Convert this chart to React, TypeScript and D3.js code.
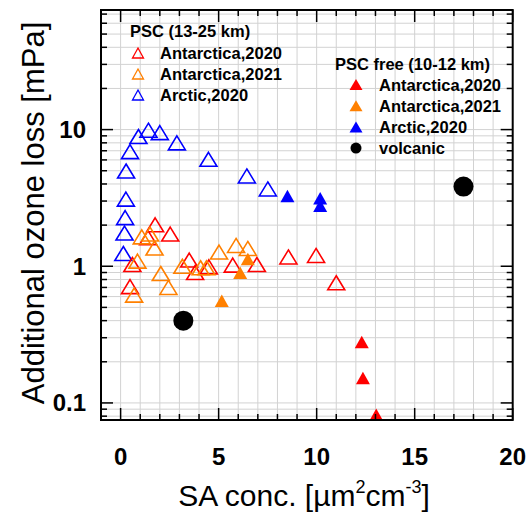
import React from "react";
import * as d3 from "d3";

// ---- data ----
const arcticPscX = [1.42, 2.0, 0.91, 2.87, 0.48, 4.48, 0.28, 0.27, 0.23, 0.2, 0.14, 6.44, 7.51];
const arcticPscY = [9.9, 9.5, 8.9, 8.0, 6.9, 6.06, 4.98, 3.1, 2.27, 1.75, 1.24, 4.58, 3.68];

const ant20PscX = [1.76, 2.53, 1.4, 0.6, 3.5, 3.8, 4.5, 0.48, 5.72, 6.95, 8.56, 9.97, 11.0];
const ant20PscY = [2.01, 1.72, 1.62, 1.03, 1.11, 0.9, 0.99, 0.71, 1.02, 1.03, 1.17, 1.2, 0.757];

const ant21PscX = [1.08, 1.5, 1.73, 0.86, 2.05, 2.44, 0.69, 3.15, 4.08, 4.38, 5.02, 5.89, 6.49];
const ant21PscY = [1.64, 1.72, 1.36, 1.09, 0.885, 0.7, 0.615, 1.0, 0.975, 0.975, 1.27, 1.42, 1.35];

const ant20FreeX = [12.3, 12.36, 13.04];
const ant20FreeY = [0.279, 0.152, 0.082];
const ant21FreeX = [6.49, 6.1, 5.16];
const ant21FreeY = [1.13, 0.895, 0.56];
const arcticFreeX = [8.51, 10.18, 10.18];
const arcticFreeY = [3.27, 3.15, 2.77];
const volcanicX = [3.2, 17.49];
const volcanicY = [0.4, 3.83];

const xTickValues = [0, 5, 10, 15, 20];
const yTickValues = [0.1, 1, 10];
const yTickLabels = ["0.1", "1", "10"];

const legendPscLabels = ["Antarctica,2020", "Antarctica,2021", "Arctic,2020"];
const legendFreeLabels = ["Antarctica,2020", "Antarctica,2021", "Arctic,2020", "volcanic"];

const RED = "#ff0000";
const ORANGE = "#ff8000";
const BLUE = "#0000ff";

const W = 529, H = 517;
const L = 101, R = 512.7, T = 10, B = 420;

const x = d3.scaleLinear().domain([-1, 20]).range([L, R]);
const y = d3.scaleLog().domain([0.075, 75]).range([B, T]);

const zip = (xs: number[], ys: number[]) => xs.map((v, i) => [v, ys[i]] as [number, number]);

const triOpen = (w: number, h: number) => `M0,${-h / 2}L${w / 2},${h / 2}L${-w / 2},${h / 2}Z`;

const FONT = "'Liberation Sans', Arial, sans-serif";

export default function App() {
  const xMinor = d3.range(-1, 21);
  const yMinor: number[] = [];
  for (let d = -2; d <= 1; d++) for (let k = 1; k <= 9; k++) {
    const v = k * Math.pow(10, d);
    if (v > 0.075 && v < 75) yMinor.push(v);
  }
  const openTri = triOpen(17, 14);
  const fillTri = triOpen(14, 12.5);
  const legOpen = triOpen(11, 10);
  const legFill = triOpen(13, 11);

  const openSeries = [
    { pts: zip(arcticPscX, arcticPscY), c: BLUE },
    { pts: zip(ant20PscX, ant20PscY), c: RED },
    { pts: zip(ant21PscX, ant21PscY), c: ORANGE },
  ];
  const fillSeries = [
    { pts: zip(ant20FreeX, ant20FreeY), c: RED },
    { pts: zip(ant21FreeX, ant21FreeY), c: ORANGE },
    { pts: zip(arcticFreeX, arcticFreeY), c: BLUE },
  ];

  return (
    <svg width={W} height={H} style={{ position: "absolute", left: 0, top: 0 }} fontFamily={FONT}>
      <rect x={0} y={0} width={W} height={H} fill="#fff" />
      <defs>
        <clipPath id="plot">
          <rect x={L} y={T} width={R - L} height={B - T} />
        </clipPath>
      </defs>
      {/* grid */}
      <g stroke="#d2d2d2" strokeWidth={1}>
        {xMinor.map((v) => (
          <line key={"gx" + v} x1={x(v)} x2={x(v)} y1={T} y2={B} />
        ))}
        {yMinor.map((v, i) => (
          <line key={"gy" + i} x1={L} x2={R} y1={y(v)} y2={y(v)} />
        ))}
      </g>
      {/* data */}
      <g clipPath="url(#plot)">
        {openSeries.map((s, si) =>
          s.pts.map((p, i) => (
            <path key={`o${si}-${i}`} d={openTri} transform={`translate(${x(p[0])},${y(p[1])})`}
              fill="none" stroke={s.c} strokeWidth={1.6} />
          ))
        )}
        {fillSeries.map((s, si) =>
          s.pts.map((p, i) => (
            <path key={`f${si}-${i}`} d={fillTri} transform={`translate(${x(p[0])},${y(p[1])})`} fill={s.c} />
          ))
        )}
        {zip(volcanicX, volcanicY).map((p, i) => (
          <circle key={"v" + i} cx={x(p[0])} cy={y(p[1])} r={10} fill="#000" />
        ))}
      </g>
      {/* ticks */}
      <g stroke="#000" strokeWidth={1.5}>
        {xMinor.map((v) => {
          const len = v % 5 === 0 ? 12 : 6;
          return (
            <g key={"tx" + v}>
              <line x1={x(v)} x2={x(v)} y1={B} y2={B - len} />
              <line x1={x(v)} x2={x(v)} y1={T} y2={T + len} />
            </g>
          );
        })}
        {yMinor.map((v, i) => {
          const major = yTickValues.includes(v);
          const len = major ? 12 : 6;
          return (
            <g key={"ty" + i}>
              <line x1={L} x2={L + len} y1={y(v)} y2={y(v)} />
              <line x1={R} x2={R - len} y1={y(v)} y2={y(v)} />
            </g>
          );
        })}
      </g>
      <rect x={L} y={T} width={R - L} height={B - T} fill="none" stroke="#000" strokeWidth={2} />
      {/* tick labels */}
      <g fontWeight="bold" fontSize={24} fill="#000">
        {xTickValues.map((v) => (
          <text key={"xl" + v} x={x(v)} y={465} textAnchor="middle">{v}</text>
        ))}
        {yTickValues.map((v, i) => (
          <text key={"yl" + v} x={86} y={y(v) + 8.5} textAnchor="end">{yTickLabels[i]}</text>
        ))}
      </g>
      {/* axis titles */}
      <text x={304} y={506} textAnchor="middle" fontSize={30}>
        SA conc. [µm<tspan fontSize={18} dy={-13}>2</tspan><tspan dy={13}>cm</tspan>
        <tspan fontSize={18} dy={-13}>-3</tspan><tspan dy={13}>]</tspan>
      </text>
      <text transform="translate(44,213) rotate(-90)" textAnchor="middle" fontSize={31}>
        Additional ozone loss [mPa]
      </text>
      {/* legend 1 */}
      <g fontWeight="bold" fontSize={16.5}>
        <text x={130} y={37}>PSC (13-25 km)</text>
        {legendPscLabels.map((lab, i) => {
          const cy = 53 + i * 21;
          const c = [RED, ORANGE, BLUE][i];
          return (
            <g key={"l1" + i}>
              <path d={legOpen} transform={`translate(138,${cy})`} fill="none" stroke={c} strokeWidth={1.3} />
              <text x={160} y={cy + 6}>{lab}</text>
            </g>
          );
        })}
        <text x={335} y={70}>PSC free (10-12 km)</text>
        {legendFreeLabels.map((lab, i) => {
          const cy = 84.5 + i * 21.2;
          return (
            <g key={"l2" + i}>
              {i < 3 ? (
                <path d={legFill} transform={`translate(356,${cy})`} fill={[RED, ORANGE, BLUE][i]} />
              ) : (
                <circle cx={356} cy={cy} r={5.5} fill="#000" />
              )}
              <text x={379} y={cy + 6}>{lab}</text>
            </g>
          );
        })}
      </g>
    </svg>
  );
}
